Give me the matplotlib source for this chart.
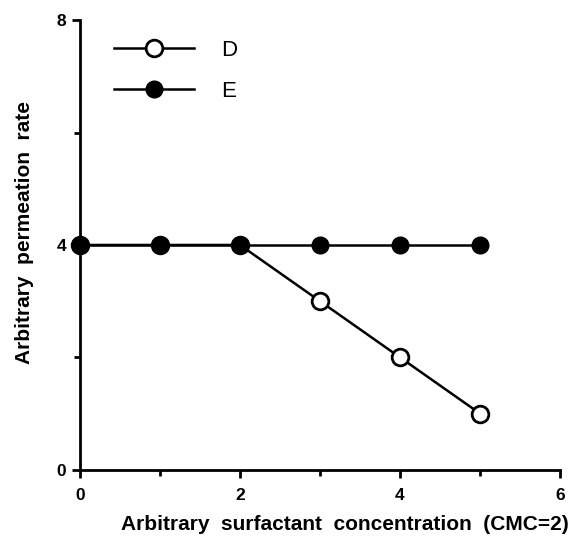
import matplotlib
matplotlib.use("Agg")
import matplotlib.pyplot as plt
from matplotlib.ticker import MultipleLocator

plt.rcParams['font.family'] = ['Liberation Sans', 'DejaVu Sans']

x = [0, 1, 2, 3, 4, 5]
d_values = [4, 4, 4, 3, 2, 1]
e_values = [4, 4, 4, 4, 4, 4]

fig = plt.figure(figsize=(5.75, 5.45), dpi=100)
ax = fig.add_axes([0.139, 0.138, 0.835, 0.825])

ax.plot(x, d_values, color='black', lw=1.8, marker='o', ms=12,
        mfc='white', mec='black', mew=2, label='D', zorder=2, clip_on=False)
ax.plot(x, e_values, color='black', lw=1.8, marker='o', ms=12,
        mfc='black', mec='black', label='E', zorder=3, clip_on=False)

ax.set_xlim(0, 6)
ax.set_ylim(0, 8)
ax.xaxis.set_major_locator(MultipleLocator(2))
ax.xaxis.set_minor_locator(MultipleLocator(1))
ax.yaxis.set_major_locator(MultipleLocator(4))
ax.yaxis.set_minor_locator(MultipleLocator(2))
for s in ['top', 'right']:
    ax.spines[s].set_visible(False)
for s in ['left', 'bottom']:
    ax.spines[s].set_linewidth(2)
ax.tick_params(which='major', direction='out', length=6, width=2, labelsize=12.5)
ax.tick_params(which='minor', direction='out', length=4, width=2)
for lbl in ax.get_xticklabels() + ax.get_yticklabels():
    lbl.set_fontweight('bold')
ax.tick_params(axis='x', pad=7)
ax.tick_params(axis='y', pad=4)

ax.set_xlabel('Arbitrary  surfactant  concentration  (CMC=2)', fontsize=15,
              fontweight='bold', labelpad=9, x=0.552)
ax.set_ylabel('Arbitrary  permeation  rate', fontsize=15, fontweight='bold',
              labelpad=16, y=0.527)

ax.legend(loc='upper left', bbox_to_anchor=(0.03, 1.0), frameon=False,
          handlelength=3.6, fontsize=16, labelspacing=0.9, handletextpad=1.2)

fig.savefig('out.png', dpi=100)
